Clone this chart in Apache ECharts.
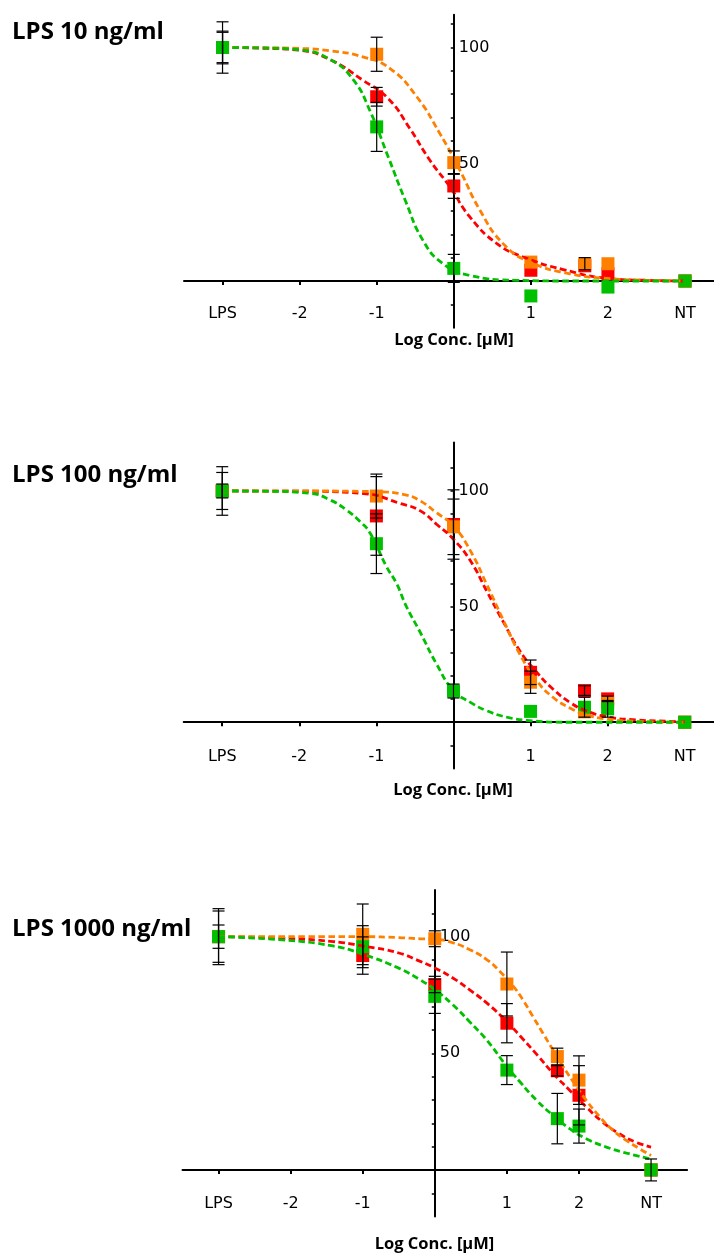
<!DOCTYPE html>
<html>
<head>
<meta charset="utf-8">
<title>LPS dose response</title>
<script src="https://cdn.jsdelivr.net/npm/echarts@6/dist/echarts.min.js"></script>
<style>
  html, body { margin: 0; padding: 0; background: #fff; }
  #chart { width: 714px; height: 1253px; }
</style>
</head>
<body>
<div id="chart"></div>
<script>
// dose positions (log µM), LPS alone sits at -3 and NT at 3
const doseX = [-3, -1, 0, 1, 1.7, 2, 3];
const xTickValues = [-3, -2, -1, 1, 2, 3];
const xTickLabels = ['LPS', '-2', '-1', '1', '2', 'NT'];
const yTickValues = [-10, 0, 10, 20, 30, 40, 50, 60, 70, 80, 90, 100, 110];
const yLabelValues = [50, 100];
const panelTitles = ['LPS 10 ng/ml', 'LPS 100 ng/ml', 'LPS 1000 ng/ml'];
const xAxisTitle = 'Log Conc. [µM]';
const colors = ['#FF0000', '#FF8000', '#00C000']; // red, orange, green

// LPS 10 ng/ml
const p1Red = [100, 78.9, 40.7, 4.6, 6.5, 3.1, 0];
const p1RedErr = [11, 4, 5.3, 0, 0, 0, 0];
const p1Orange = [100, 97.1, 50.7, 8.1, 7.4, 7.4, 0];
const p1OrangeErr = [7, 7.3, 5, 0, 2.6, 0, 0];
const p1Green = [100, 66, 5.4, -6.4, null, -2.6, 0];
const p1GreenErr = [6.5, 10.5, 6, 0, 0, 0, 0];
const p1RedFit = [[-3, 100], [-2.5, 99.7], [-2, 98.8], [-1.61, 94.9], [-1.18, 86], [-0.85, 78.1], [-0.57, 65.3], [-0.31, 51.7], [-0.05, 40.3], [0.21, 27.4], [0.56, 16], [0.9, 10.3], [1.42, 4.9], [2.03, 1], [2.5, 0.3], [3, 0]];
const p1OrangeFit = [[-3, 100], [-2.5, 99.9], [-2, 99.6], [-1.61, 98.6], [-1.18, 96], [-0.83, 91.1], [-0.48, 78.9], [-0.18, 63.1], [0.08, 47.4], [0.34, 30.3], [0.64, 16], [0.99, 8.1], [1.51, 3.1], [2.03, 1], [2.5, 0.3], [3, 0]];
const p1GreenFit = [[-3, 100], [-2.5, 99.8], [-2, 99], [-1.59, 94.6], [-1.3, 86], [-1.09, 73.1], [-0.85, 53.1], [-0.63, 34.6], [-0.4, 17.4], [-0.14, 7.4], [0.21, 2.4], [0.81, 0.3], [1.5, 0], [3, 0]];

// LPS 100 ng/ml
const p2Red = [100, 89.2, 85.5, 21.6, 13.7, 10.1, 0];
const p2RedErr = [10.5, 17, 15, 5.3, 2.1, 1.2, 0];
const p2Orange = [100, 97.8, 84.5, 17.3, 4.5, 8.5, 0];
const p2OrangeErr = [8, 9.5, 12, 4.8, 0, 0, 0];
const p2Green = [100, 77.2, 13.5, 4.7, 6.5, 5.8, 0];
const p2GreenErr = [3, 12.9, 3, 0, 4.3, 3.6, 0];
const p2RedFit = [[-3, 100], [-2, 99.9], [-1.17, 98.9], [-0.69, 94.6], [-0.43, 91.4], [-0.22, 85.6], [0, 79.1], [0.22, 69.8], [0.43, 56.8], [0.65, 43.2], [0.86, 30.9], [1.08, 21.6], [1.29, 14.4], [1.51, 8.6], [1.72, 5], [1.98, 2.4], [2.37, 1], [2.8, 0.4], [3, 0.2]];
const p2OrangeFit = [[-3, 100], [-2, 100], [-1, 99.7], [-0.61, 98.2], [-0.43, 95.7], [-0.22, 90.6], [0, 84.9], [0.22, 74.1], [0.43, 59.7], [0.65, 43.9], [0.86, 29.5], [1.08, 18], [1.29, 10.8], [1.51, 6.2], [1.72, 3.3], [1.98, 1.4], [2.37, 0.4], [3, 0]];
const p2GreenFit = [[-3, 100], [-2.5, 99.9], [-1.86, 99], [-1.6, 96.1], [-1.39, 91.8], [-1.21, 86.7], [-1.08, 81.7], [-0.87, 67.3], [-0.74, 60.1], [-0.61, 50], [-0.43, 38.8], [-0.22, 25.2], [0, 13.7], [0.22, 8.6], [0.43, 5], [0.69, 2.2], [0.99, 0.7], [1.5, 0], [3, 0]];

// LPS 1000 ng/ml
const p3Red = [100, 91.9, 79.5, 62.9, 42.5, 32, 0];
const p3RedErr = [11, 8, 3.5, 8.4, 2.2, 12.7, 0];
const p3Orange = [100, 101, 99.1, 79.7, 48.6, 38.5, 0];
const p3OrangeErr = [5, 13, 3.4, 13.7, 3.6, 10.4, 0];
const p3Green = [100, 95.7, 74.4, 42.8, 22, 18.8, 0];
const p3GreenErr = [12, 9, 7.3, 6.2, 10.8, 7.3, 4.7];
const p3RedFit = [[-3, 100], [-2.12, 99.3], [-1.41, 97.9], [-1, 96], [-0.5, 93], [-0.21, 89.5], [0, 86.6], [0.25, 82.3], [0.48, 77.3], [0.72, 71.6], [1, 63.6], [1.19, 57.2], [1.42, 49.3], [1.64, 41.4], [1.87, 34.2], [2.1, 27], [2.33, 20.5], [2.56, 15.5], [2.79, 11.9], [3, 9.8]];
const p3OrangeFit = [[-3, 100], [-1, 100], [-0.5, 99.6], [-0.21, 99.1], [0, 98.9], [0.25, 97.4], [0.48, 94.5], [0.72, 90.2], [0.9, 85.2], [1.09, 78.7], [1.22, 73], [1.36, 65.8], [1.5, 58.6], [1.64, 51.4], [1.78, 44.3], [1.92, 37.8], [2.1, 29.9], [2.29, 22.7], [2.47, 17], [2.66, 12.6], [2.84, 9.1], [3, 6.2]];
const p3GreenFit = [[-3, 100], [-2.12, 98.6], [-1.41, 96], [-1, 92.5], [-0.5, 86.5], [-0.21, 81.6], [0, 77.3], [0.25, 70.8], [0.48, 63.6], [0.72, 55.7], [1, 44.3], [1.18, 37.8], [1.41, 29.9], [1.64, 23.4], [1.87, 17.7], [2.1, 13.4], [2.38, 9.8], [2.66, 7.2], [3, 4.7]];

const panels = [
  { means: [p1Red, p1Orange, p1Green], errs: [p1RedErr, p1OrangeErr, p1GreenErr], fits: [p1RedFit, p1OrangeFit, p1GreenFit],
    grid: { left: 184, top: 14.8, width: 530, height: 312.9 }, xMax: 3.376, yMax: 114,
    labelMargin: 25, titleY: 32, nameX: 454, nameY: 340 },
  { means: [p2Red, p2Orange, p2Green], errs: [p2RedErr, p2OrangeErr, p2GreenErr], fits: [p2RedFit, p2OrangeFit, p2GreenFit],
    grid: { left: 183.7, top: 442.4, width: 530.3, height: 326.1 }, xMax: 3.38, yMax: 121,
    labelMargin: 27, titleY: 475.5, nameX: 453, nameY: 790 },
  { means: [p3Red, p3Orange, p3Green], errs: [p3RedErr, p3OrangeErr, p3GreenErr], fits: [p3RedFit, p3OrangeFit, p3GreenFit],
    grid: { left: 182.5, top: 890, width: 504.6, height: 326.6 }, xMax: 3.5, yMax: 120,
    labelMargin: 26, titleY: 929, nameX: 434.5, nameY: 1244 }
];
const xMin = -3.5, yMin = -20;

const tickFont = { fontFamily: 'DejaVu Sans', fontSize: 16, color: '#000' };

const renderErrorBar = (params, api) => {
  const x = api.value(0), m = api.value(1), e = api.value(2);
  const top = api.coord([x, m + e]);
  const bot = api.coord([x, m - e]);
  const half = 6;
  const style = { stroke: '#000', lineWidth: 1.2 };
  return {
    type: 'group',
    children: [
      { type: 'line', shape: { x1: top[0], y1: top[1], x2: bot[0], y2: bot[1] }, style },
      { type: 'line', shape: { x1: top[0] - half, y1: top[1], x2: top[0] + half, y2: top[1] }, style },
      { type: 'line', shape: { x1: bot[0] - half, y1: bot[1], x2: bot[0] + half, y2: bot[1] }, style }
    ]
  };
};

const grids = [], xAxes = [], yAxes = [], series = [], graphics = [];

panels.forEach((p, i) => {
  grids.push(Object.assign({ outerBoundsMode: 'none', containLabel: false }, p.grid));
  // axes cross at zero: shift them in from the grid edge (labels follow too)
  const xAxisShift = p.grid.height * (0 - yMin) / (p.yMax - yMin);
  const yAxisShift = p.grid.width * (0 - xMin) / (p.xMax - xMin);
  xAxes.push({
    gridIndex: i, type: 'value', min: xMin, max: p.xMax, position: 'bottom', offset: -xAxisShift,
    axisLine: { onZero: false, lineStyle: { color: '#000', width: 2 } },
    axisTick: { customValues: xTickValues, length: 4, lineStyle: { color: '#000', width: 2 } },
    axisLabel: Object.assign({
      customValues: xTickValues, margin: p.labelMargin,
      formatter: v => xTickLabels[xTickValues.indexOf(v)]
    }, tickFont),
    splitLine: { show: false }
  });
  yAxes.push({
    gridIndex: i, type: 'value', min: yMin, max: p.yMax, position: 'left', offset: -yAxisShift,
    axisLine: { show: true, onZero: false, lineStyle: { color: '#000', width: 2 } },
    axisTick: { show: true, customValues: yTickValues, length: 3, lineStyle: { color: '#000', width: 1.5 } },
    axisLabel: Object.assign({ inside: true, customValues: yLabelValues, margin: 5, formatter: v => String(v) }, tickFont),
    splitLine: { show: false }
  });

  // measured points, red then orange then green (green ends on top)
  p.means.forEach((vals, k) => {
    series.push({
      type: 'scatter', xAxisIndex: i, yAxisIndex: i, z: 2,
      symbol: 'rect', symbolSize: 13,
      itemStyle: { color: colors[k], opacity: 1 },
      data: doseX.map((x, j) => [x, vals[j]]).filter(d => d[1] !== null)
    });
  });

  // fitted curves
  p.fits.forEach((pts, k) => {
    series.push({
      type: 'line', xAxisIndex: i, yAxisIndex: i, z: 3,
      smooth: 0.5, showSymbol: false, symbol: 'none',
      lineStyle: { color: colors[k], width: 2.8, type: [6.5, 3.5] },
      data: pts
    });
  });

  // error bars
  const bars = [];
  p.means.forEach((vals, k) => {
    doseX.forEach((x, j) => {
      if (vals[j] !== null && p.errs[k][j] > 0) bars.push([x, vals[j], p.errs[k][j]]);
    });
  });
  series.push({
    type: 'custom', xAxisIndex: i, yAxisIndex: i, z: 4, clip: false,
    renderItem: renderErrorBar,
    encode: { x: 0, y: 1 },
    data: bars
  });

  graphics.push({
    type: 'text', x: 12, y: p.titleY, z: 10,
    style: { text: panelTitles[i], font: 'bold 24px "Open Sans"', fill: '#000', verticalAlign: 'middle' }
  });
  graphics.push({
    type: 'text', x: p.nameX, y: p.nameY, z: 10,
    style: { text: xAxisTitle, font: 'bold 16.5px "Open Sans"', fill: '#000', align: 'center', verticalAlign: 'middle' }
  });
});

const myChart = echarts.init(document.getElementById('chart'));
myChart.setOption({
  animation: false,
  backgroundColor: '#fff',
  grid: grids,
  xAxis: xAxes,
  yAxis: yAxes,
  series: series,
  graphic: graphics
});
</script>
</body>
</html>
